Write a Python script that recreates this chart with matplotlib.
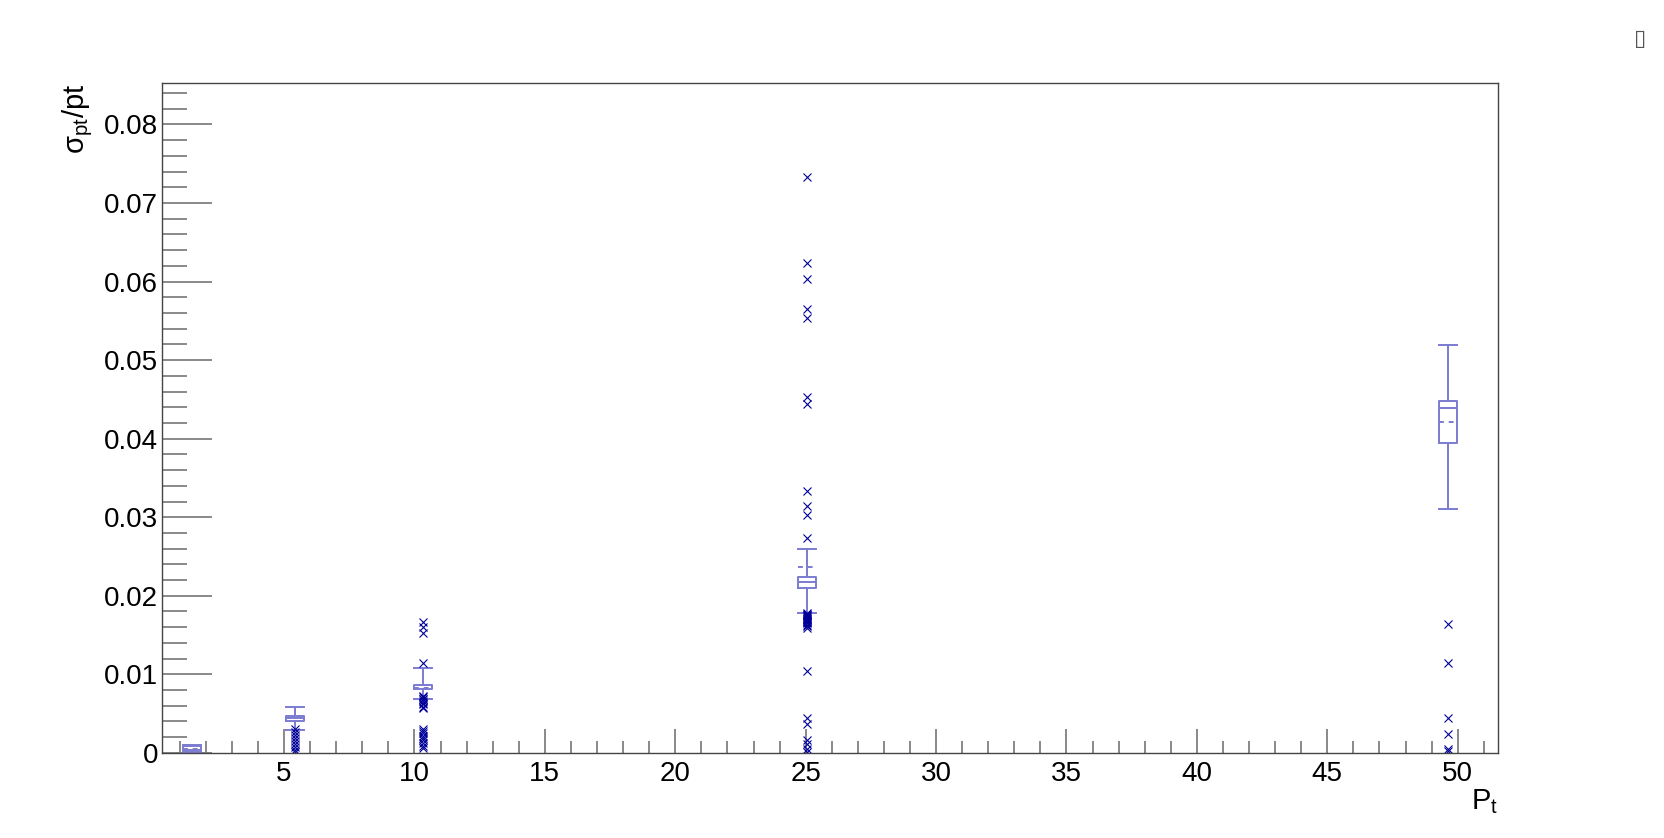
import matplotlib
matplotlib.use("Agg")
import matplotlib.pyplot as plt
from matplotlib.ticker import MultipleLocator

plt.rcParams['font.family'] = ['Liberation Sans', 'DejaVu Sans']
plt.rcParams['mathtext.fontset'] = 'custom'
plt.rcParams['mathtext.rm'] = 'Liberation Sans'

# ---------------- data ----------------
positions = [1.46, 5.42, 10.32, 25.04, 49.62]
q1 = [0.0001, 0.0041, 0.0081, 0.0210, 0.0395]
median = [0.0004, 0.0045, 0.0086, 0.0218, 0.0439]
q3 = [0.0009, 0.0047, 0.0087, 0.0224, 0.0448]
mean = [0.0005, 0.0044, 0.0083, 0.0237, 0.0421]
whisker_lo = [0.0000, 0.0029, 0.0069, 0.0178, 0.0310]
whisker_hi = [0.0010, 0.0059, 0.0108, 0.0259, 0.0519]
outliers = [
    [],
    [0.0031, 0.0027, 0.0023, 0.0019, 0.0015, 0.0011, 0.0008, 0.0004, 0.0001],
    [0.0167, 0.0160, 0.0152, 0.0115,
     0.0073, 0.0071, 0.0069, 0.0068, 0.0066, 0.0064, 0.0062, 0.0059, 0.0057,
     0.0031, 0.0028, 0.0025, 0.0022, 0.0019, 0.0016, 0.0013, 0.0009, 0.0006],
    [0.0733, 0.0624, 0.0603, 0.0565, 0.0553, 0.0453, 0.0444,
     0.0333, 0.0314, 0.0303, 0.0274,
     0.0178, 0.0177, 0.0176, 0.0175, 0.0174, 0.0173, 0.0172, 0.0171, 0.0170,
     0.0169, 0.0168, 0.0167, 0.0166, 0.0165, 0.0163, 0.0161, 0.0159,
     0.0104, 0.0045, 0.0037, 0.0017, 0.0011, 0.0005, 0.0001],
    [0.0164, 0.0114, 0.0044, 0.0024, 0.0005, 0.0002],
]
xticks = [5, 10, 15, 20, 25, 30, 35, 40, 45, 50]
xticklabels = ["5", "10", "15", "20", "25", "30", "35", "40", "45", "50"]
yticks = [0, 0.01, 0.02, 0.03, 0.04, 0.05, 0.06, 0.07, 0.08]
yticklabels = ["0", "0.01", "0.02", "0.03", "0.04", "0.05", "0.06", "0.07", "0.08"]
ylabel = r'$\mathregular{σ_{pt}/pt}$'
xlabel = r'$\mathregular{P_{t}}$'

# ---------------- figure ----------------
W, H = 1665, 838
fig = plt.figure(figsize=(W / 100, H / 100), dpi=100)
ax = fig.add_axes([162.5 / W, 1 - 752.9 / H, (1498.4 - 162.5) / W, (752.9 - 82.8) / H])

box_col = '#7c7cd0'
mark_col = '#000099'

stats = []
for i in range(len(positions)):
    stats.append(dict(q1=q1[i], med=median[i], q3=q3[i], mean=mean[i],
                      whislo=whisker_lo[i], whishi=whisker_hi[i],
                      fliers=outliers[i]))

lp = dict(color=box_col, linewidth=1.4)
ax.bxp(stats, positions=positions, widths=0.7, capwidths=0.7,
       showmeans=True, meanline=True, manage_ticks=False,
       boxprops=lp, whiskerprops=lp, capprops=lp, medianprops=lp,
       meanprops=dict(color=box_col, linewidth=1.4, linestyle=(0, (2.5, 2.5))),
       flierprops=dict(marker='x', markeredgecolor=mark_col, markersize=6,
                       markeredgewidth=0.8, linestyle='none'))

ax.set_xlim(0.34, 51.56)
ax.set_ylim(0, 0.0853)

ax.set_xticks(xticks)
ax.set_xticklabels(xticklabels)
ax.set_yticks(yticks)
ax.set_yticklabels(yticklabels)
ax.xaxis.set_minor_locator(MultipleLocator(1))
ax.yaxis.set_minor_locator(MultipleLocator(0.002))

ax.tick_params(axis='both', which='both', direction='in', color='#808080',
               width=1.3, labelsize=20, top=False, right=False)
ax.tick_params(axis='x', which='major', length=17, pad=6)
ax.tick_params(axis='x', which='minor', length=8.6)
ax.tick_params(axis='y', which='major', length=36, pad=3)
ax.tick_params(axis='y', which='minor', length=18)

for s in ax.spines.values():
    s.set_color('#444444')
    s.set_linewidth(1.0)

fig.text(78 / W, 1 - 84 / H, ylabel, rotation=90, ha='center', va='top', fontsize=21)
fig.text(1498 / W, 1 - 802 / H, xlabel, ha='right', va='center', fontsize=21)
fig.text(1640 / W, 1 - 39 / H, '\u25af', ha='center', va='center', fontsize=16,
         color='#555555', family='DejaVu Sans')

fig.savefig('out.png', dpi=100)
